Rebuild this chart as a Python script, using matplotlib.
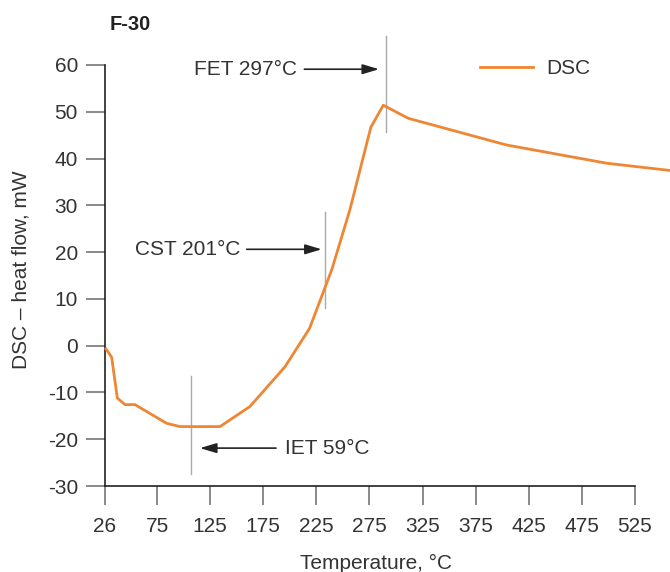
import matplotlib
matplotlib.use("Agg")
import matplotlib.pyplot as plt

# Data
temperature = [27, 32.3, 37.6, 44.8, 54.2, 84, 96.6, 134.3, 162.5, 195.5, 218.6,
               239.6, 256.5, 276.3, 288.0, 311.6, 404.0, 498.4, 560]
dsc = [-0.7, -2.5, -11.2, -12.6, -12.6, -16.6, -17.3, -17.3, -13.0, -4.5, 3.7,
       16.3, 29.0, 46.7, 51.4, 48.6, 42.9, 39.0, 37.4]
x_ticks = [26, 75, 125, 175, 225, 275, 325, 375, 425, 475, 525]
y_ticks = [-30, -20, -10, 0, 10, 20, 30, 40, 50, 60]

# markers: label, line x, line y-range, text pos, arrow start, arrow tip, y, alignment
marker_labels = ["IET 59°C", "CST 201°C", "FET 297°C"]
marker_x = [106.6, 233.2, 290.6]
marker_y0 = [-27.4, 8.0, 45.6]
marker_y1 = [-6.5, 28.6, 66.2]
text_x = [195.5, 153.1, 206.5]
arrow_from = [187.0, 159.4, 213.7]
arrow_to = [115.4, 230.0, 284.0]
arrow_y = [-21.9, 20.6, 59.1]
text_ha = ["left", "right", "right"]

plt.rcParams['font.family'] = ['Liberation Sans', 'DejaVu Sans']
TXT = '#333333'
ORANGE = '#EF8633'

fig = plt.figure(figsize=(6.7, 5.72), dpi=100)
ax = fig.add_axes([105/670, 1-486/572, 530/670, 421/572])

ax.plot(temperature, dsc, color=ORANGE, lw=2.0, clip_on=False, zorder=3, label='DSC')
ax.set_xlim(26, 525)
ax.set_ylim(-30, 60)
ax.set_xticks(x_ticks)
ax.set_xticklabels([str(t) for t in x_ticks])
ax.set_yticks(y_ticks)
ax.set_yticklabels([str(t) for t in y_ticks])

for s in ['top', 'right']:
    ax.spines[s].set_visible(False)
for s in ['left', 'bottom']:
    ax.spines[s].set_color('#222222')
    ax.spines[s].set_linewidth(1.2)
ax.tick_params(axis='both', direction='out', length=13.5, width=1.2, color='#777777',
               labelsize=15, labelcolor=TXT)
ax.tick_params(axis='y', pad=6)
ax.tick_params(axis='x', pad=9)

for lab, mx, y0, y1, tx, af, at, ay, ha in zip(marker_labels, marker_x, marker_y0, marker_y1,
                                                text_x, arrow_from, arrow_to, arrow_y, text_ha):
    ax.plot([mx, mx], [y0, y1], color='#AAAAAA', lw=1.0, clip_on=False, zorder=2)
    ax.annotate('', xy=(at, ay), xytext=(af, ay),
                arrowprops=dict(arrowstyle='-|>,head_length=1.0,head_width=0.3',
                                mutation_scale=10, color='#222222', lw=1.2,
                                shrinkA=0, shrinkB=0))
    ax.text(tx, ay, lab, ha=ha, va='center', fontsize=15, color=TXT)

leg = ax.legend(loc='center left', bbox_to_anchor=(480/670, 1-69/572),
                bbox_transform=fig.transFigure, frameon=False, fontsize=15,
                handlelength=2.55, handletextpad=0.65, borderpad=0, borderaxespad=0)
for t in leg.get_texts():
    t.set_color(TXT)

fig.text(21.5/670, 1-270/572, 'DSC – heat flow, mW', rotation=90, ha='center', va='center',
         fontsize=15, color=TXT)
fig.text(376/670, 1-563/572, 'Temperature, °C', ha='center', va='center', fontsize=15, color=TXT)
fig.text(110/670, 1-24/572, 'F-30', ha='left', va='center', fontsize=14.5, fontweight='bold',
         color='#222222')

fig.savefig('out.png', dpi=100)
